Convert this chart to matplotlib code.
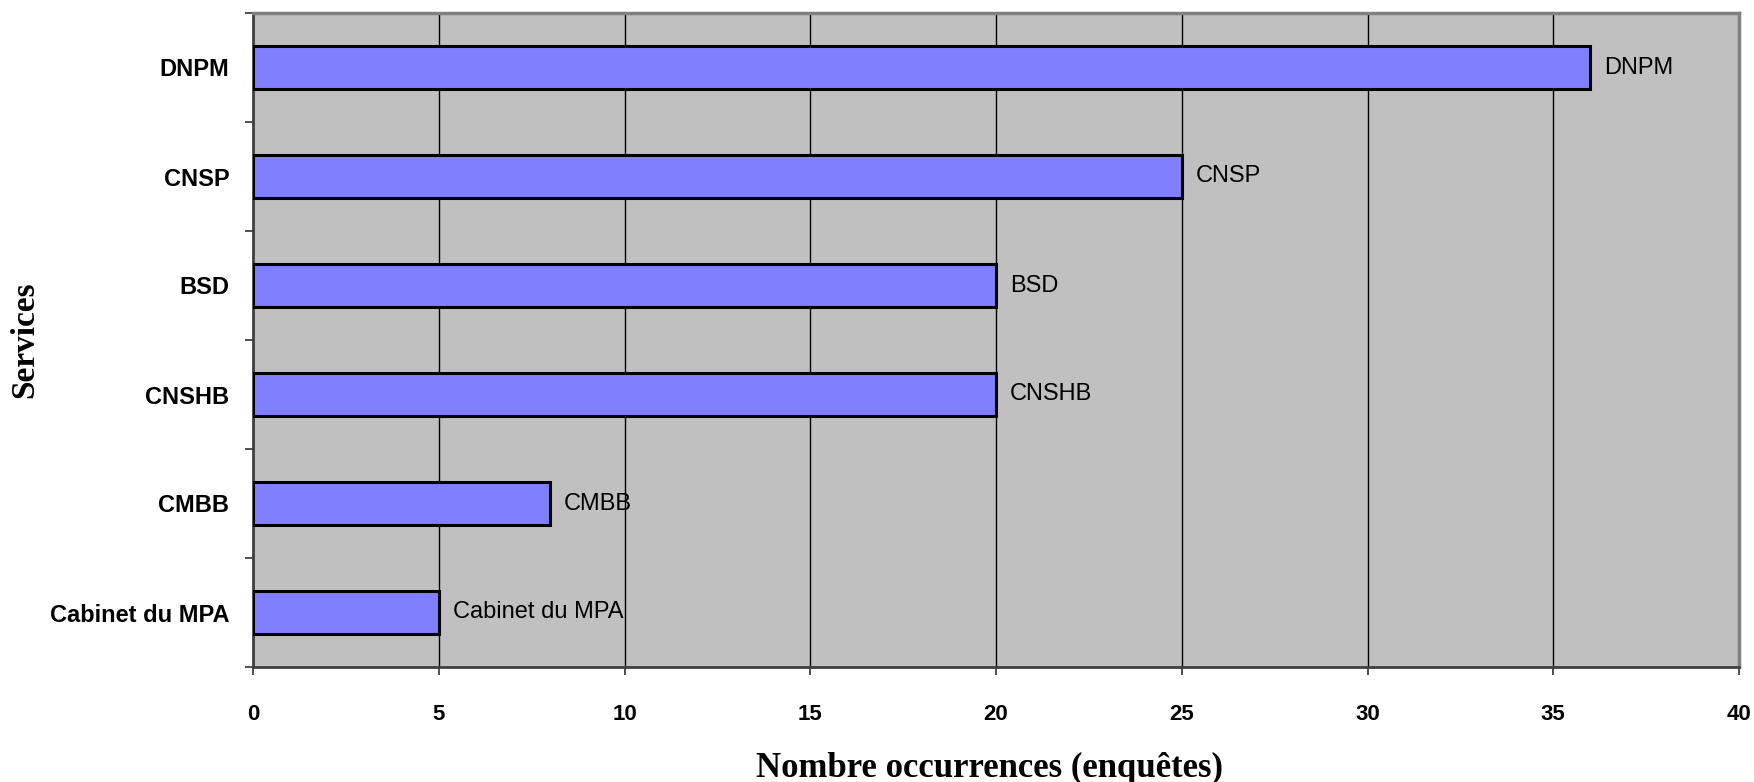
import matplotlib
matplotlib.use("Agg")
import matplotlib.pyplot as plt
import numpy as np

# services (top to bottom) and number of occurrences
services = ["DNPM", "CNSP", "BSD", "CNSHB", "CMBB", "Cabinet du MPA"]
occurrences = [36, 25, 20, 20, 8, 5]
x_ticks = [0, 5, 10, 15, 20, 25, 30, 35, 40]

plt.rcParams['font.family'] = ['Liberation Sans', 'DejaVu Sans']

fig = plt.figure(figsize=(17.54, 7.82), dpi=100)
ax = fig.add_axes([253 / 1754, 1 - 667 / 782, (1739 - 253) / 1754, (667 - 13) / 782])
ax.set_facecolor('#C0C0C0')

pos = np.arange(len(services))
ax.barh(pos, occurrences, height=0.39, color='#8080FF', edgecolor='black',
        linewidth=2.2, zorder=3)

# category name at the end of each bar
for y, v, name in zip(pos, occurrences, services):
    ax.annotate(name, (v, y), xytext=(10, 0), textcoords='offset points',
                ha='left', va='center', fontsize=17, zorder=4)

ax.set_xlim(0, 40)
ax.set_ylim(len(services) - 0.5, -0.5)
ax.set_xticks(x_ticks)
ax.set_xticklabels([str(t) for t in x_ticks], fontsize=16, fontweight='bold')
ax.tick_params(axis='x', direction='out', length=6, width=1.2, pad=21,
               color='#303030')

ax.set_yticks(pos)
ax.set_yticklabels(services, fontsize=17, fontweight='bold')
ax.set_yticks(np.arange(-0.5, len(services)), minor=True)
ax.tick_params(axis='y', which='major', length=0, pad=17)
ax.tick_params(axis='y', which='minor', direction='out', length=6, width=1.2,
               color='#303030')

ax.grid(axis='x', color='black', linewidth=1.0, zorder=1)
ax.set_axisbelow(True)

for side in ['top', 'right']:
    ax.spines[side].set_color('#808080')
    ax.spines[side].set_linewidth(2.5)
for side in ['left', 'bottom']:
    ax.spines[side].set_color('#404040')
    ax.spines[side].set_linewidth(2.0)

fig.text(990 / 1754, 1 - 777 / 782, "Nombre occurrences (enquêtes)",
         ha='center', va='baseline', fontsize=25, fontweight='bold',
         family=['Liberation Serif', 'DejaVu Serif'])
fig.text(25 / 1754, 1 - 340 / 782, "Services", rotation=90,
         ha='center', va='center', fontsize=24, fontweight='bold',
         family=['Liberation Serif', 'DejaVu Serif'])

fig.savefig("out.png", dpi=100)
